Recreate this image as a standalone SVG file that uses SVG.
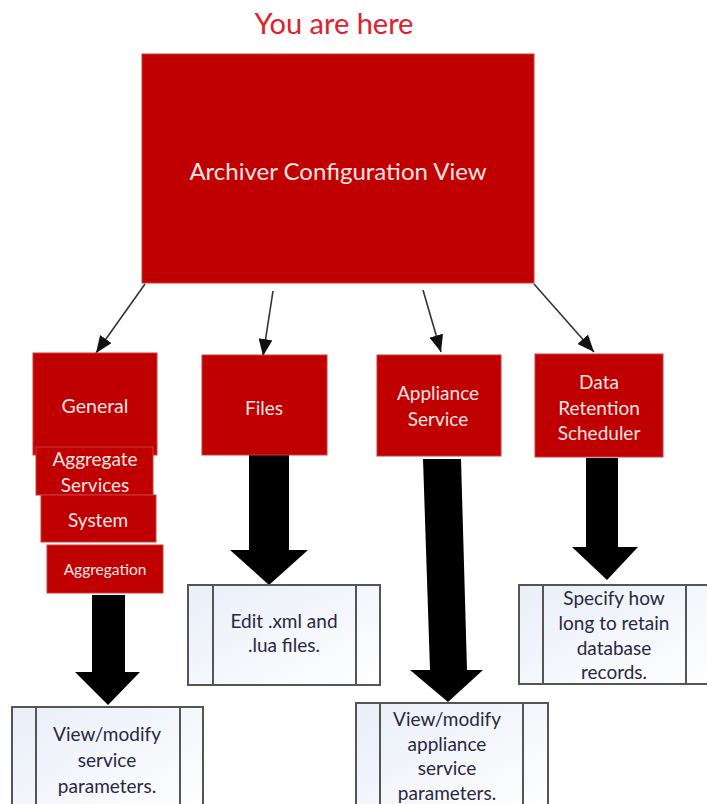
<svg xmlns="http://www.w3.org/2000/svg" width="707" height="804" viewBox="0 0 707 804">
<defs>
<style>
.red{fill:#c00000;stroke:#c83c3c;stroke-width:1}
.rt{font-family:Lato,"Liberation Sans",sans-serif;fill:#fbe4e4;text-anchor:middle;dominant-baseline:central}
.proc{fill:url(#pg);stroke:#555;stroke-width:2}
.pl{stroke:#555;stroke-width:2}
.dt{font-family:Lato,"Liberation Sans",sans-serif;font-size:19px;fill:#2a2840;text-anchor:middle;dominant-baseline:central}
.thin{stroke:#333;stroke-width:1.6;fill:none}
.thick{fill:#000}
</style>
<linearGradient id="pg" x1="0" y1="0" x2="1" y2="1">
<stop offset="0" stop-color="#e9eef8"/>
<stop offset="1" stop-color="#ffffff"/>
</linearGradient>
<marker id="ah" markerUnits="userSpaceOnUse" markerWidth="18" markerHeight="14" refX="17" refY="7" orient="auto">
<path d="M0,0 L17,7 L0,14 Z" fill="#111"/>
</marker>
</defs>
<rect width="707" height="804" fill="#fff"/>
<text x="334" y="22" font-family="Lato,'Liberation Sans',sans-serif" font-size="29" fill="#e0202c" text-anchor="middle" dominant-baseline="central">You are here</text>

<g id="main">
<rect class="red" x="142" y="54" width="392" height="229"/>
<text class="rt" x="338" y="170" font-size="24">Archiver Configuration View</text>
</g>

<g id="connectors">
<line class="thin" x1="145" y1="284" x2="96" y2="353" marker-end="url(#ah)"/>
<line class="thin" x1="273" y1="291" x2="263" y2="356" marker-end="url(#ah)"/>
<line class="thin" x1="423" y1="290" x2="441" y2="352" marker-end="url(#ah)"/>
<line class="thin" x1="534" y1="284" x2="594" y2="352" marker-end="url(#ah)"/>
<polygon class="thick" points="92,595 125,595 125,672 140,672 108,705 75,672 92,672"/>
<polygon class="thick" points="249,453 289,453 289,550 308,550 269,585 230,550 249,550"/>
<polygon class="thick" points="423,459 461,459 467,670 483,670 448,702 410,670 430,670"/>
<polygon class="thick" points="586,458 618,458 618,547 638,547 607,580 572,547 586,547"/>
</g>

<g id="general">
<rect class="red" x="33" y="353" width="124" height="102"/>
<text class="rt" x="95" y="405" font-size="19.5">General</text>
</g>
<g id="aggregate-services">
<rect class="red" x="36" y="447" width="117" height="48"/>
<text class="rt" x="95" y="458" font-size="19">Aggregate</text>
<text class="rt" x="95" y="484" font-size="19">Services</text>
</g>
<g id="system">
<rect class="red" x="41" y="495" width="115" height="47"/>
<text class="rt" x="98" y="519" font-size="19">System</text>
</g>
<g id="aggregation">
<rect class="red" x="47" y="545" width="116" height="48"/>
<text class="rt" x="105" y="569" font-size="15.5">Aggregation</text>
</g>
<g id="files">
<rect class="red" x="202" y="355" width="125" height="100"/>
<text class="rt" x="264" y="407" font-size="19">Files</text>
</g>
<g id="appliance-service">
<rect class="red" x="377" y="355" width="124" height="101"/>
<text class="rt" x="438" y="392" font-size="19">Appliance</text>
<text class="rt" x="438" y="418" font-size="19">Service</text>
</g>
<g id="data-retention">
<rect class="red" x="535" y="354" width="128" height="103"/>
<text class="rt" x="599" y="381" font-size="19">Data</text>
<text class="rt" x="599" y="407" font-size="19">Retention</text>
<text class="rt" x="599" y="432" font-size="19">Scheduler</text>
</g>

<g id="general-desc">
<rect class="proc" x="12" y="707" width="191" height="110"/>
<line class="pl" x1="36" y1="707" x2="36" y2="817"/>
<line class="pl" x1="180" y1="707" x2="180" y2="817"/>
<text class="dt" x="107" y="733">View/modify</text>
<text class="dt" x="107" y="759">service</text>
<text class="dt" x="107" y="785">parameters.</text>
</g>
<g id="files-desc">
<rect class="proc" x="188" y="585" width="192" height="100"/>
<line class="pl" x1="213" y1="585" x2="213" y2="685"/>
<line class="pl" x1="356" y1="585" x2="356" y2="685"/>
<text class="dt" x="284" y="620">Edit .xml and</text>
<text class="dt" x="284" y="644">.lua files.</text>
</g>
<g id="appliance-desc">
<rect class="proc" x="356" y="703" width="192" height="110"/>
<line class="pl" x1="380" y1="703" x2="380" y2="813"/>
<line class="pl" x1="523" y1="703" x2="523" y2="813"/>
<text class="dt" x="447" y="718">View/modify</text>
<text class="dt" x="447" y="743">appliance</text>
<text class="dt" x="447" y="767">service</text>
<text class="dt" x="447" y="792">parameters.</text>
</g>
<g id="data-desc">
<rect class="proc" x="519" y="585" width="200" height="99"/>
<line class="pl" x1="543" y1="585" x2="543" y2="684"/>
<line class="pl" x1="686" y1="585" x2="686" y2="684"/>
<text class="dt" x="614" y="597">Specify how</text>
<text class="dt" x="614" y="622">long to retain</text>
<text class="dt" x="614" y="647">database</text>
<text class="dt" x="614" y="671">records.</text>
</g>
</svg>
